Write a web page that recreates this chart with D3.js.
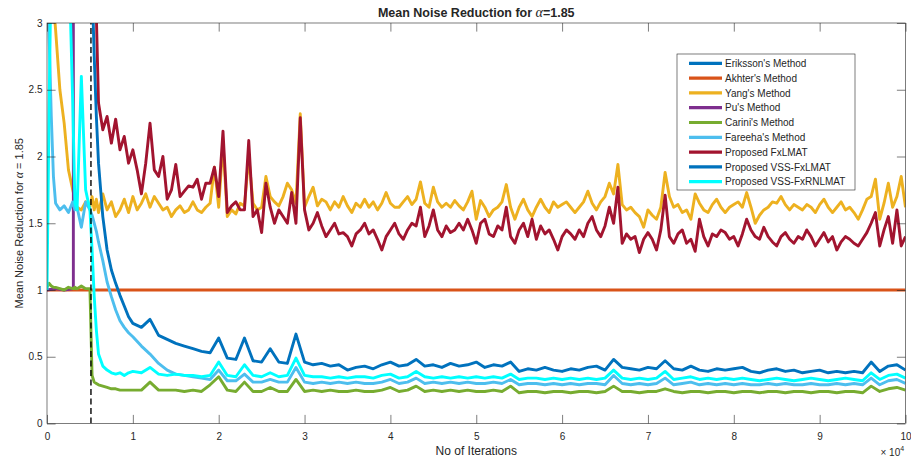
<!DOCTYPE html>
<html>
<head>
<meta charset="utf-8">
<script src="https://cdn.jsdelivr.net/npm/d3@7"></script>
<style>
body { margin: 0; background: #fff; }
svg text { font-family: "Liberation Sans", Arial, Helvetica, sans-serif; fill: #262626; }
.tick line { stroke: #262626; stroke-width: 0.6; }
</style>
</head>
<body>
<div class="content"></div>
<script>
const MARGIN = {top: 23, right: 5.5, bottom: 39.5, left: 47};
const SVGWIDTH = 911 - MARGIN.left - MARGIN.right;
const SVGHEIGHT = 463 - MARGIN.top - MARGIN.bottom;
const cfg = {strokeWidth: 2.9, tickLen: 8.6};

// sampling grid, iterations
const iters = [
  0,250,500,750,1000,1500,2000,2500,3000,3250,3500,4000,4500,5000,5250,5500,5750,6000,6500,7000,7500,8000,8500,9000,9500,
  10000,11000,12000,13000,14000,15000,16000,17000,18000,19000,
  20000,21000,22000,23000,24000,25000,26000,27000,28000,29000,
  30000,31000,32000,33000,34000,35000,36000,37000,38000,39000,
  40000,41000,42000,43000,44000,45000,46000,47000,48000,49000,
  50000,51000,52000,53000,54000,55000,56000,57000,58000,59000,
  60000,61000,62000,63000,64000,65000,66000,67000,68000,69000,
  70000,71000,72000,73000,74000,75000,76000,77000,78000,79000,
  80000,81000,82000,83000,84000,85000,86000,87000,88000,89000,
  90000,91000,92000,93000,94000,95000,96000,97000,98000,99000,
  100000
];

// finer grid used for the two noisy upper curves
const itersFine = [
  0,250,500,750,1000,1500,2000,2500,3000,3250,3500,4000,4500,5000,5250,5500,5750,6000,6500,7000,7500,8000,8500,9000,9500,
  10000,10500,11000,11500,12000,12500,13000,13500,14000,14500,
  15000,15500,16000,16500,17000,17500,18000,18500,19000,19500,
  20000,20500,21000,21500,22000,22500,23000,23500,24000,24500,
  25000,25500,26000,26500,27000,27500,28000,28500,29000,29500,
  30000,30500,31000,31500,32000,32500,33000,33500,34000,34500,
  35000,35500,36000,36500,37000,37500,38000,38500,39000,39500,
  40000,40500,41000,41500,42000,42500,43000,43500,44000,44500,
  45000,45500,46000,46500,47000,47500,48000,48500,49000,49500,
  50000,50500,51000,51500,52000,52500,53000,53500,54000,54500,
  55000,55500,56000,56500,57000,57500,58000,58500,59000,59500,
  60000,60500,61000,61500,62000,62500,63000,63500,64000,64500,
  65000,65500,66000,66500,67000,67500,68000,68500,69000,69500,
  70000,70500,71000,71500,72000,72500,73000,73500,74000,74500,
  75000,75500,76000,76500,77000,77500,78000,78500,79000,79500,
  80000,80500,81000,81500,82000,82500,83000,83500,84000,84500,
  85000,85500,86000,86500,87000,87500,88000,88500,89000,89500,
  90000,90500,91000,91500,92000,92500,93000,93500,94000,94500,
  95000,95500,96000,96500,97000,97500,98000,98500,99000,99500,
  100000
];

const xTicks = [0,10000,20000,30000,40000,50000,60000,70000,80000,90000,100000];
const xTickLabels = ["0","1","2","3","4","5","6","7","8","9","10"];
const yTicks = [0,0.5,1,1.5,2,2.5,3];
const yTickLabels = ["0","0.5","1","1.5","2","2.5","3"];

const methods = ["Eriksson's Method","Akhter's Method","Yang's Method","Pu's Method","Carini's Method",
  "Fareeha's Method","Proposed FxLMAT","Proposed VSS-FxLMAT","Proposed VSS-FxRNLMAT"];
const colours = ["#0072BD","#D95319","#EDB120","#7E2F8E","#77AC30","#4DBEEE","#A2142F","#0072BD","#00FFFF"];

// Eriksson diverges above the plotted range
const erikssonIters = [0,100000];
const erikssonVals = [3.6,3.6];

const akhterIters = [0,100000];
const akhterVals = [1.0,1.0];

const yangVals = [
  3.60,3.45,3.30,3.15,2.95,2.50,2.25,1.90,1.75,1.68,1.62,1.60,1.66,1.62,1.70,1.60,1.68,1.58,1.72,1.60,1.66,1.55,1.60,1.68,1.58,
  1.70,1.60,1.65,1.72,1.62,1.70,1.65,1.60,1.62,1.55,
  1.60,1.63,1.58,1.60,1.66,1.60,1.58,1.62,1.65,1.92,
  1.62,2.10,1.55,1.60,1.57,1.65,1.63,2.00,1.65,1.60,
  1.62,1.85,1.70,1.66,1.63,1.70,1.80,1.75,1.65,2.32,
  1.62,1.70,1.77,1.63,1.68,1.66,1.60,1.66,1.62,1.70,
  1.63,1.58,1.65,1.62,1.68,1.62,1.66,1.60,1.65,1.73,
  1.65,1.62,1.62,1.66,1.70,1.64,1.68,1.81,1.65,1.62,
  1.77,1.66,1.62,1.65,1.62,1.67,1.63,1.60,1.66,1.74,
  1.53,1.67,1.62,1.55,1.60,1.62,1.66,1.79,1.62,1.53,
  1.62,1.68,1.60,1.55,1.62,1.68,1.62,1.58,1.66,1.62,
  1.64,1.66,1.62,1.58,1.62,1.66,1.74,1.65,1.60,1.66,
  1.70,1.80,1.72,1.94,1.64,1.60,1.62,1.58,1.55,1.47,
  1.60,1.56,1.53,1.62,1.88,1.70,1.62,1.64,1.58,1.60,
  1.53,1.72,1.65,1.60,1.58,1.64,1.68,1.62,1.58,1.62,
  1.64,1.66,1.62,1.73,1.62,1.50,1.56,1.60,1.62,1.66,
  1.65,1.70,1.64,1.60,1.64,1.62,1.60,1.64,1.62,1.58,
  1.64,1.68,1.62,1.58,1.62,1.66,1.60,1.62,1.58,1.53,
  1.60,1.68,1.70,1.83,1.53,1.65,1.80,1.62,1.70,1.85,
  1.62
];

const puIters = [0,1000,2000,3070,3070,100000];
const puVals = [1.0,1.01,1.0,1.01,3.6,3.6];

const cariniVals = [
  1.02,1.05,1.03,1.02,1.02,1.01,1.00,1.02,1.01,1.02,1.01,1.03,1.01,1.01,0.36,0.31,0.30,0.29,0.28,0.27,0.26,0.26,0.25,0.25,0.25,
  0.25,0.25,0.31,0.25,0.25,0.25,0.24,0.25,0.24,0.29,
  0.35,0.25,0.24,0.31,0.24,0.24,0.27,0.24,0.24,0.33,
  0.24,0.25,0.24,0.25,0.24,0.24,0.25,0.24,0.24,0.25,
  0.27,0.24,0.25,0.28,0.24,0.25,0.24,0.25,0.24,0.25,
  0.24,0.24,0.25,0.24,0.28,0.23,0.24,0.24,0.23,0.24,
  0.24,0.23,0.24,0.24,0.23,0.24,0.28,0.24,0.24,0.23,
  0.24,0.24,0.26,0.24,0.23,0.24,0.24,0.23,0.24,0.24,
  0.23,0.24,0.24,0.23,0.24,0.24,0.23,0.24,0.24,0.23,
  0.24,0.24,0.23,0.24,0.24,0.23,0.28,0.24,0.26,0.27,
  0.25
];

const fareehaVals = [
  3.50,2.90,2.30,1.85,1.65,1.60,1.63,1.58,1.66,1.60,1.62,1.47,1.66,1.60,1.56,1.50,1.44,1.36,1.22,1.06,0.95,0.85,0.77,0.72,0.68,
  0.65,0.58,0.52,0.45,0.40,0.37,0.36,0.35,0.34,0.33,
  0.40,0.32,0.32,0.37,0.31,0.31,0.33,0.31,0.31,0.42,
  0.31,0.30,0.31,0.30,0.31,0.30,0.31,0.30,0.30,0.31,
  0.33,0.30,0.31,0.34,0.30,0.31,0.30,0.31,0.30,0.31,
  0.30,0.30,0.31,0.30,0.33,0.29,0.30,0.30,0.29,0.30,
  0.29,0.30,0.29,0.30,0.30,0.29,0.36,0.30,0.29,0.30,
  0.29,0.30,0.34,0.29,0.30,0.31,0.29,0.30,0.29,0.30,
  0.29,0.30,0.29,0.29,0.30,0.29,0.30,0.29,0.29,0.30,
  0.29,0.29,0.30,0.29,0.30,0.29,0.34,0.29,0.32,0.33,
  0.30
];

const fxlmatVals = [
  3.60,3.60,3.60,3.60,3.60,3.60,3.60,3.60,3.60,3.60,3.60,3.60,3.60,3.60,3.60,3.40,3.05,2.40,2.20,2.30,2.10,2.28,2.05,2.15,1.95,
  2.05,1.90,1.72,1.95,2.25,1.90,1.85,2.00,1.68,1.75,
  1.94,1.70,1.74,1.78,1.77,1.83,1.68,1.80,1.80,1.92,
  1.70,2.19,1.58,1.63,1.66,1.60,1.60,2.12,1.55,1.60,
  1.43,1.80,1.62,1.50,1.60,1.55,1.50,1.73,1.50,2.29,
  1.60,1.45,1.50,1.58,1.48,1.40,1.45,1.50,1.42,1.43,
  1.40,1.33,1.42,1.45,1.50,1.42,1.45,1.38,1.30,1.40,
  1.45,1.50,1.42,1.38,1.45,1.50,1.48,1.62,1.40,1.48,
  1.60,1.45,1.40,1.48,1.43,1.45,1.50,1.45,1.53,1.45,
  1.35,1.50,1.53,1.42,1.40,1.48,1.45,1.62,1.40,1.35,
  1.45,1.50,1.40,1.53,1.38,1.48,1.42,1.45,1.38,1.30,
  1.40,1.45,1.42,1.38,1.45,1.40,1.50,1.55,1.45,1.40,
  1.48,1.62,1.50,1.77,1.35,1.42,1.38,1.40,1.28,1.38,
  1.43,1.38,1.30,1.45,1.71,1.40,1.35,1.42,1.45,1.35,
  1.38,1.29,1.53,1.40,1.33,1.42,1.40,1.45,1.43,1.38,
  1.40,1.33,1.42,1.53,1.45,1.40,1.38,1.47,1.40,1.36,
  1.33,1.40,1.43,1.38,1.35,1.40,1.38,1.45,1.40,1.33,
  1.38,1.43,1.36,1.40,1.30,1.36,1.40,1.38,1.35,1.33,
  1.38,1.43,1.50,1.58,1.33,1.45,1.55,1.35,1.60,1.33,
  1.40
];

const vssFxlmatVals = [
  3.60,3.60,3.60,3.60,3.60,3.60,3.60,3.60,3.60,3.60,3.60,3.60,3.60,3.60,3.30,2.75,2.30,1.95,1.55,1.30,1.15,1.05,0.96,0.88,0.80,
  0.75,0.72,0.78,0.66,0.63,0.60,0.58,0.56,0.54,0.53,
  0.64,0.49,0.48,0.64,0.47,0.46,0.56,0.46,0.45,0.67,
  0.46,0.44,0.45,0.43,0.44,0.40,0.42,0.43,0.41,0.44,
  0.46,0.43,0.44,0.48,0.43,0.44,0.42,0.45,0.43,0.44,
  0.46,0.42,0.44,0.43,0.46,0.39,0.41,0.40,0.42,0.40,
  0.39,0.41,0.40,0.42,0.43,0.40,0.48,0.42,0.41,0.40,
  0.42,0.41,0.47,0.41,0.40,0.43,0.40,0.39,0.41,0.40,
  0.41,0.42,0.39,0.38,0.40,0.41,0.39,0.40,0.38,0.39,
  0.40,0.38,0.39,0.38,0.39,0.38,0.46,0.39,0.43,0.44,
  0.40
];

const vssFxrnlmatVals = [
  1.00,2.40,3.50,3.60,3.60,3.60,3.60,3.60,2.40,1.65,1.60,2.60,1.75,1.60,1.30,0.95,0.70,0.52,0.43,0.40,0.38,0.37,0.38,0.36,0.38,
  0.39,0.38,0.42,0.37,0.36,0.37,0.36,0.36,0.35,0.36,
  0.46,0.36,0.35,0.44,0.36,0.35,0.38,0.35,0.36,0.49,
  0.36,0.35,0.35,0.34,0.35,0.34,0.35,0.35,0.34,0.36,
  0.37,0.34,0.35,0.39,0.35,0.34,0.35,0.34,0.35,0.34,
  0.35,0.34,0.35,0.34,0.37,0.33,0.34,0.34,0.33,0.34,
  0.33,0.34,0.33,0.34,0.33,0.34,0.40,0.34,0.33,0.34,
  0.33,0.34,0.39,0.33,0.34,0.35,0.33,0.34,0.33,0.34,
  0.33,0.34,0.33,0.32,0.33,0.34,0.33,0.32,0.33,0.34,
  0.33,0.32,0.33,0.34,0.33,0.32,0.38,0.33,0.36,0.37,
  0.34
];

const stepIteration = 5120;

class NoiseChart{
	constructor(){
		this.svg = d3.select(".content").append("svg")
			.attr("width", 911).attr("height", 463)
			.append("g").attr("transform", "translate(" + MARGIN.left + "," + MARGIN.top + ")");
		this.svg.append("defs").append("clipPath").attr("id", "clip")
			.append("rect").attr("width", SVGWIDTH).attr("height", SVGHEIGHT);
	}
	draw(){
		let x = d3.scaleLinear().domain([0, 100000]).range([0, SVGWIDTH]);
		let y = d3.scaleLinear().domain([0, 3]).range([SVGHEIGHT, 0]);

		let series = [
			{xs: erikssonIters, ys: erikssonVals},
			{xs: akhterIters, ys: akhterVals},
			{xs: itersFine, ys: yangVals},
			{xs: puIters, ys: puVals},
			{xs: iters, ys: cariniVals},
			{xs: iters, ys: fareehaVals},
			{xs: itersFine, ys: fxlmatVals},
			{xs: iters, ys: vssFxlmatVals},
			{xs: iters, ys: vssFxrnlmatVals}
		];
		series.forEach((s, i) => {
			if (s.xs.length !== s.ys.length) throw new Error(methods[i] + " length " + s.ys.length + " vs " + s.xs.length);
			s.name = methods[i];
			s.colour = colours[i];
			s.points = s.xs.map((v, j) => [v, s.ys[j]]);
		});

		let line = d3.line().x(d => x(d[0])).y(d => y(d[1]));

		this.svg.append("rect").attr("width", SVGWIDTH).attr("height", SVGHEIGHT).attr("fill", "#fff");

		let lines = this.svg.append("g").attr("clip-path", "url(#clip)");
		lines.selectAll("path")
			.data(series)
			.join("path")
				.attr("d", d => line(d.points))
				.attr("fill", "none")
				.attr("stroke", d => d.colour)
				.attr("stroke-width", cfg.strokeWidth)
				.attr("stroke-linejoin", "round");

		lines.append("line")
			.attr("x1", x(stepIteration)).attr("x2", x(stepIteration))
			.attr("y1", y(0)).attr("y2", y(3))
			.attr("stroke", "#000")
			.attr("stroke-width", 1.4)
			.attr("stroke-dasharray", "6,3.5");

		// axes, ticks pointing inward
		let xAxis = d3.axisBottom(x).tickValues(xTicks).tickFormat((d, i) => xTickLabels[i])
			.tickSizeInner(-cfg.tickLen).tickSizeOuter(0).tickPadding(9);
		let xTop = d3.axisTop(x).tickValues(xTicks).tickFormat("").tickSizeInner(-cfg.tickLen).tickSizeOuter(0);
		let yAxis = d3.axisLeft(y).tickValues(yTicks).tickFormat((d, i) => yTickLabels[i])
			.tickSizeInner(-cfg.tickLen).tickSizeOuter(0).tickPadding(4.5);
		let yRight = d3.axisRight(y).tickValues(yTicks).tickFormat("").tickSizeInner(-cfg.tickLen).tickSizeOuter(0);

		this.svg.append("g").attr("transform", "translate(0," + SVGHEIGHT + ")").call(xAxis);
		this.svg.append("g").call(xTop);
		this.svg.append("g").call(yAxis);
		this.svg.append("g").attr("transform", "translate(" + SVGWIDTH + ",0)").call(yRight);
		this.svg.selectAll(".domain").remove();
		this.svg.selectAll(".tick text").attr("font-size", 10).attr("font-family", null).style("fill", "#262626");

		this.svg.append("rect")
			.attr("width", SVGWIDTH).attr("height", SVGHEIGHT)
			.attr("fill", "none").attr("stroke", "#262626").attr("stroke-width", 0.6);

		// exponent label
		let expo = this.svg.append("text")
			.attr("x", SVGWIDTH - 25).attr("y", SVGHEIGHT + 32.5)
			.attr("font-size", 10);
		expo.append("tspan").text("\u00d7 10");
		expo.append("tspan").attr("font-size", 7).attr("dy", -5).text("4");

		this.svg.append("text")
			.attr("x", SVGWIDTH / 2).attr("y", SVGHEIGHT + 31.5)
			.attr("text-anchor", "middle").attr("font-size", 12)
			.text("No of Iterations");

		let title = this.svg.append("text")
			.attr("x", SVGWIDTH / 2).attr("y", -6)
			.attr("text-anchor", "middle").attr("font-size", 12.5).attr("font-weight", "bold");
		title.append("tspan").text("Mean Noise Reduction for ");
		title.append("tspan").attr("font-family", "Liberation Serif, serif").attr("font-style", "italic")
			.attr("font-weight", "normal").attr("font-size", 14).text("\u03b1");
		title.append("tspan").text("=1.85");

		let ylab = this.svg.append("text")
			.attr("transform", "translate(" + (23 - MARGIN.left) + "," + (SVGHEIGHT / 2) + ") rotate(-90)")
			.attr("text-anchor", "middle").attr("font-size", 11);
		ylab.append("tspan").text("Mean Noise Reduction for  ");
		ylab.append("tspan").attr("font-family", "Liberation Serif, serif").attr("font-style", "italic")
			.attr("font-size", 12).text("\u03b1");
		ylab.append("tspan").text(" = 1.85");

		// legend
		let lx = 677 - MARGIN.left, ly = 54 - MARGIN.top;
		let legend = this.svg.append("g").attr("transform", "translate(" + lx + "," + ly + ")");
		legend.append("rect").attr("width", 178).attr("height", 136)
			.attr("fill", "#fff").attr("stroke", "#262626").attr("stroke-width", 0.6);
		let rows = legend.selectAll("g.row").data(series).join("g")
			.attr("class", "row")
			.attr("transform", (d, i) => "translate(0," + (9.3 + i * 14.8) + ")");
		rows.append("line").attr("x1", 12).attr("x2", 45)
			.attr("stroke", d => d.colour).attr("stroke-width", 3.2);
		rows.append("text").attr("x", 48).attr("y", 3.6).attr("font-size", 10).text(d => d.name);
	}
}

let chart = new NoiseChart();
chart.draw();
</script>
</body>
</html>
